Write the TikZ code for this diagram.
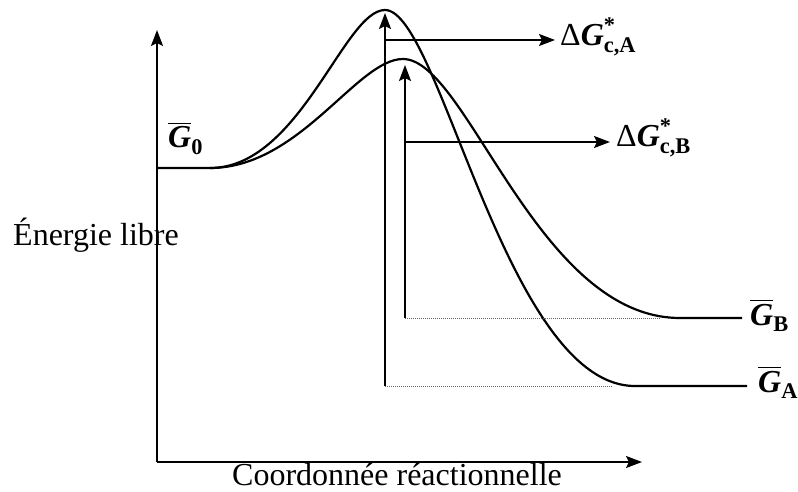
\documentclass[tikz,border=0pt]{standalone}
\usepackage{amsmath}
\usepackage{fontspec}
\setmainfont{Liberation Serif}
\usetikzlibrary{arrows.meta}
\newcommand\GbarLbl[1]{$\overline{\text{\bfseries\itshape G}}_{\text{\bfseries #1}}$}
\newcommand\DGLbl[1]{$\text{Δ}\text{\bfseries\itshape G}^{\text{\bfseries *}}_{\text{\bfseries #1}}$}
\tikzset{
  curve/.style={line width=2.2pt, line join=round},
  axis/.style={line width=2pt, -{Stealth[length=16pt,width=12pt,inset=3pt]}},
  barrier/.style={line width=2pt, -{Stealth[length=16pt,width=12pt,inset=3pt]}},
  level/.style={line width=1pt, densely dotted, black!60},
  lbl/.style={inner sep=0pt, font=\fontsize{32}{36}\selectfont},
}
\begin{document}
\begin{tikzpicture}[x=1pt,y=-1pt]
\useasboundingbox (0,0) rectangle (798,492);
% axes
\coordinate (O) at (157,462);
\coordinate (Ytop) at (157,30);
\coordinate (Xend) at (642,462);
\draw[axis] (O) -- (Ytop);
\draw[axis] (O) -- (Xend);
% curve A
\coordinate (S) at (210,168);
\coordinate (PA) at (385,10);
\coordinate (EA) at (635,386);
\draw[curve] (157,168) -- (S) .. controls (300,168) and (344,10) .. (PA)
  .. controls (440,10) and (506,386) .. (EA) -- (747,386);
% curve B
\coordinate (PB) at (403,59);
\coordinate (EB) at (680,318);
\draw[curve] (S) .. controls (300,168) and (357,59) .. (PB)
  .. controls (467,59) and (537,318) .. (EB) -- (742,318);
% barrier A
\coordinate (A0) at (385,386);
\coordinate (A1) at (385,13);
\coordinate (A2) at (385,40);
\coordinate (A3) at (555,40);
\draw[level] (A0) -- (613,386);
\draw[barrier] (A0) -- (A1);
\draw[barrier] (A2) -- (A3);
% barrier B
\coordinate (B0) at (405,318);
\coordinate (B1) at (405,65);
\coordinate (B2) at (405,142);
\coordinate (B3) at (610,142);
\draw[level] (B0) -- (660,318);
\draw[barrier] (B0) -- (B1);
\draw[barrier] (B2) -- (B3);
% labels
\node[lbl, anchor=base west] (dga) at (560,46) {\DGLbl{c,A}};
\node[lbl, anchor=base west] (dgb) at (616,147) {\DGLbl{c,B}};
\node[lbl, anchor=base west] (gb) at (750,325) {\GbarLbl{B}};
\node[lbl, anchor=base west] (ga) at (758,392) {\GbarLbl{A}};
\node[lbl, anchor=base west] (g0) at (168,148) {\GbarLbl{0}};
\node[lbl, anchor=base west] (ylab) at (13,245) {Énergie libre};
\node[lbl, anchor=base west] (xlab) at (232,485) {Coordonnée réactionnelle};
\end{tikzpicture}
\end{document}
